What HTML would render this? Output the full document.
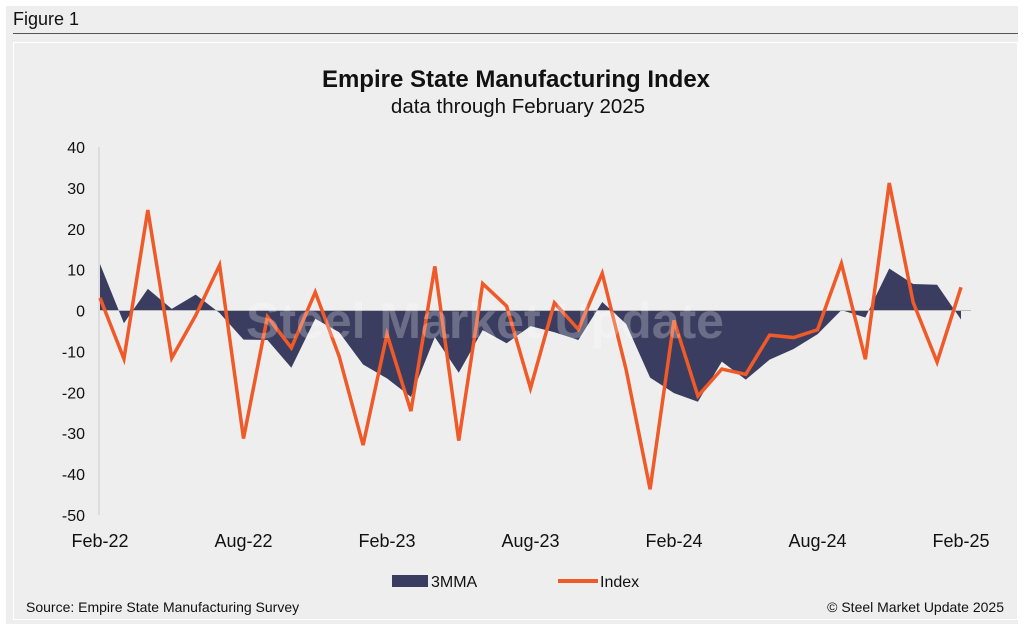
<!DOCTYPE html>
<html><head><meta charset="utf-8"><style>
body{margin:0;background:#fff;font-family:"Liberation Sans",Arial,sans-serif;}
#wrap{position:absolute;left:6px;top:6px;width:1012px;height:618px;background:#eeeeee;}
.t{position:absolute;white-space:nowrap;color:#111;}
</style></head><body>
<div id="wrap">
<div class="t" style="left:7px;top:3px;font-size:18px">Figure 1</div>
<div style="position:absolute;left:7px;top:27px;width:1005px;height:1px;background:#555"></div>
<div style="position:absolute;left:7px;top:36px;width:1003px;height:576px;border:1px solid #fff"></div>
</div>
<svg id="chart" width="1024" height="630" style="position:absolute;left:0;top:0">
<text x="516" y="87" text-anchor="middle" font-size="24" font-weight="bold" fill="#111">Empire State Manufacturing Index</text>
<text x="518" y="113" text-anchor="middle" font-size="20.5" fill="#111">data through February 2025</text>
<g id="plot"></g>
<text x="485" y="338" text-anchor="middle" font-size="50" font-weight="bold" fill="#ffffff" opacity="0.25">Steel Market Update</text>
<g>
<rect x="392" y="575" width="36" height="12" fill="#3a3d60"/>
<text x="431" y="587" font-size="16" fill="#111">3MMA</text>
<line x1="558" y1="581" x2="598" y2="581" stroke="#f05a28" stroke-width="4"/>
<text x="600" y="587" font-size="16" fill="#111">Index</text>
</g>
<text x="26" y="612" font-size="14" fill="#111">Source: Empire State Manufacturing Survey</text>
<text x="1004" y="612" text-anchor="end" font-size="14" fill="#111">© Steel Market Update 2025</text>
</svg>
<script>
const indexValues=[3.1,-11.8,24.6,-11.6,-1.2,11.1,-31.3,-1.5,-9.1,4.5,-11.2,-32.9,-5.8,-24.6,10.8,-31.8,6.6,1.1,-19.0,1.9,-4.6,9.1,-14.5,-43.7,-2.4,-20.9,-14.3,-15.6,-6.0,-6.6,-4.7,11.5,-11.9,31.2,2.0,-12.6,5.7];
const mmaValues=[11.4,-3.1,5.3,0.4,3.9,-0.6,-7.1,-7.2,-14.0,-2.0,-5.3,-13.2,-16.6,-21.1,-6.5,-15.2,-4.8,-8.0,-3.8,-5.3,-7.2,2.1,-3.3,-16.4,-20.2,-22.3,-12.5,-16.9,-12.0,-9.4,-5.8,0.1,-1.7,10.3,6.5,6.3,-2.2];
const yTicks=[40,30,20,10,0,-10,-20,-30,-40,-50];
const xTickLabels=["Feb-22","Aug-22","Feb-23","Aug-23","Feb-24","Aug-24","Feb-25"];
const xTickIdx=[0,6,12,18,24,30,36];
const NS="http://www.w3.org/2000/svg";
const x0=100,x1=961,yTop=147,yBot=515;
const xs=i=>x0+(x1-x0)*i/(indexValues.length-1);
const ys=v=>yTop+(40-v)/90*(yBot-yTop);
const g=document.getElementById('plot');
function mk(t,a){const e=document.createElementNS(NS,t);for(const k in a)e.setAttribute(k,a[k]);g.appendChild(e);return e;}
let d='M'+xs(0)+','+ys(0);
mmaValues.forEach((v,i)=>d+=' L'+xs(i)+','+ys(v));
d+=' L'+xs(mmaValues.length-1)+','+ys(0)+' Z';
const area=mk('path',{d:d,fill:'#3a3d60'});


const zl=mk('line',{x1:x0,x2:x1+10,y1:ys(0),y2:ys(0),stroke:'#bbb','stroke-width':1});


const ax=mk('line',{x1:x0-1,x2:x0-1,y1:yTop,y2:yBot,stroke:'#ccc','stroke-width':1});


const ln=mk('polyline',{points:indexValues.map((v,i)=>xs(i)+','+ys(v)).join(' '),fill:'none',stroke:'#f05a28','stroke-width':3.5,'stroke-linejoin':'miter'});


yTicks.forEach(v=>{const t=mk('text',{x:85,y:ys(v)+6,'text-anchor':'end','font-size':16,fill:'#111'});t.textContent=v;

});
xTickLabels.forEach((s,k)=>{const t=mk('text',{x:xs(xTickIdx[k]),y:547,'text-anchor':'middle','font-size':18,fill:'#111'});t.textContent=s;

});
</script>
</body></html>
